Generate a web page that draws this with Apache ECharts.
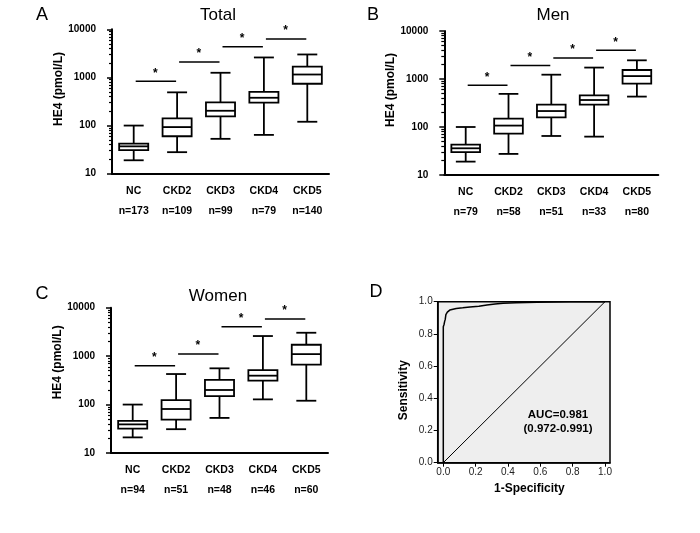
<!DOCTYPE html>
<html><head><meta charset="utf-8">
<script src="https://cdn.jsdelivr.net/npm/echarts@6/dist/echarts.min.js"></script>
<style>html,body{margin:0;padding:0;background:#fff}#c{width:700px;height:533px}</style>
</head><body><div id="c"></div>
<script>
// ---------- data ----------
const categories = ['NC', 'CKD2', 'CKD3', 'CKD4', 'CKD5'];
const nTotal = [173, 109, 99, 79, 140];
const nMen = [79, 58, 51, 33, 80];
const nWomen = [94, 51, 48, 46, 60];

// [min, Q1, median, Q3, max] in pmol/L
const totalStats = [
  [19, 31, 37, 42, 100],
  [28, 60, 93, 141, 490],
  [53, 155, 203, 303, 1250],
  [64, 300, 378, 500, 2600],
  [120, 740, 1150, 1670, 3000]
];
const menStats = [
  [19, 30, 36, 43, 100],
  [27.5, 73, 107, 149, 490],
  [65, 158, 215, 292, 1230],
  [63, 292, 365, 457, 1730],
  [430, 800, 1150, 1540, 2450]
];
const womenStats = [
  [21, 32, 39, 46, 100],
  [31, 49, 81, 123, 427],
  [53, 150, 200, 322, 560],
  [128, 312, 395, 516, 2600],
  [120, 665, 1100, 1720, 3040]
];
// significance bar heights (between category i and i+1)
const totalSig = [830, 2090, 4350, 6300];
const menSig = [740, 1900, 2750, 3970];
const womenSig = [635, 1110, 4060, 5860];

const logMajorTicks = [10, 100, 1000, 10000];
const logMinorTicks = [20, 30, 40, 50, 60, 70, 80, 90, 200, 300, 400, 500, 600, 700, 800, 900,
  2000, 3000, 4000, 5000, 6000, 7000, 8000, 9000];

// ROC curve
const rocFpr = [0, 0, 0.005, 0.008, 0.012, 0.016, 0.025, 0.04, 0.06, 0.08, 0.12, 0.165, 0.22, 0.27, 0.32, 0.37, 0.45, 0.58, 0.78, 1.0];
const rocTpr = [0, 0.845, 0.86, 0.876, 0.89, 0.92, 0.935, 0.948, 0.953, 0.958, 0.962, 0.967, 0.972, 0.98, 0.985, 0.99, 0.993, 0.996, 1.0, 1.0];
const refX = [0, 1];
const refY = [0, 1];
const rocTicks = [0, 0.2, 0.4, 0.6, 0.8, 1.0];

// ---------- chart ----------
const FONT = '"Liberation Sans", Arial, sans-serif';
const chart = echarts.init(document.getElementById('c'), null, {renderer: 'canvas'});

const panels = [
  {stats: totalStats, sig: totalSig, n: nTotal, grid: {left: 112, top: 29.3, width: 217, height: 144.4}, namePad: 25},
  {stats: menStats, sig: menSig, n: nMen, grid: {left: 444.3, top: 31, width: 214, height: 144}, namePad: 26},
  {stats: womenStats, sig: womenSig, n: nWomen, grid: {left: 111, top: 307.7, width: 217, height: 145.3}, namePad: 36}
];

function renderBox(params, api) {
  const x = api.value(0);
  const pMin = api.coord([x, api.value(1)]);
  const pQ1 = api.coord([x, api.value(2)]);
  const pMed = api.coord([x, api.value(3)]);
  const pQ3 = api.coord([x, api.value(4)]);
  const pMax = api.coord([x, api.value(5)]);
  const band = api.size([1, 1], [x, 100])[0];
  const bw = band * 0.67, cw = band * 0.46;
  const cx = pMed[0];
  const st = {stroke: '#000', lineWidth: 1.8};
  return {type: 'group', children: [
    {type: 'line', shape: {x1: cx, y1: pMax[1], x2: cx, y2: pQ3[1]}, style: st},
    {type: 'line', shape: {x1: cx, y1: pQ1[1], x2: cx, y2: pMin[1]}, style: st},
    {type: 'line', shape: {x1: cx - cw / 2, y1: pMax[1], x2: cx + cw / 2, y2: pMax[1]}, style: st},
    {type: 'line', shape: {x1: cx - cw / 2, y1: pMin[1], x2: cx + cw / 2, y2: pMin[1]}, style: st},
    {type: 'rect', shape: {x: cx - bw / 2, y: pQ3[1], width: bw, height: pQ1[1] - pQ3[1]}, style: {stroke: '#000', lineWidth: 1.8, fill: '#fff'}},
    {type: 'line', shape: {x1: cx - bw / 2, y1: pMed[1], x2: cx + bw / 2, y2: pMed[1]}, style: st}
  ]};
}

function renderSig(params, api) {
  const i = api.value(0), v = api.value(1);
  const p1 = api.coord([i, v]), p2 = api.coord([i + 1, v]);
  return {type: 'group', children: [
    {type: 'line', shape: {x1: p1[0] + 2, y1: p1[1], x2: p2[0] - 1, y2: p2[1]}, style: {stroke: '#000', lineWidth: 1.5}},
    {type: 'text', x: (p1[0] + p2[0]) / 2, y: p1[1] - 8, style: {text: '*', font: 'bold 12px ' + FONT, align: 'center', verticalAlign: 'middle', fill: '#000'}}
  ]};
}

const grids = [], xAxes = [], yAxes = [], series = [];

panels.forEach((p, i) => {
  grids.push(Object.assign({outerBoundsMode: 'none', containLabel: false}, p.grid));
  xAxes.push({
    type: 'category', gridIndex: i, data: categories, boundaryGap: true,
    axisLine: {lineStyle: {color: '#000', width: 2}},
    axisTick: {alignWithLabel: true, length: 5, lineStyle: {color: '#000', width: 1.5}},
    axisLabel: {
      margin: 7, interval: 0,
      formatter: (v, idx) => '{c|' + v + '}\n{n|n=' + p.n[idx] + '}',
      rich: {
        c: {fontFamily: FONT, fontWeight: 'bold', fontSize: 10.5, color: '#000', lineHeight: 20},
        n: {fontFamily: FONT, fontWeight: 'bold', fontSize: 10.5, color: '#000', lineHeight: 20}
      }
    },
    splitLine: {show: false}
  });
  yAxes.push({
    type: 'log', logBase: 10, gridIndex: i, min: 10, max: 10000, position: 'left',
    axisLine: {show: true, lineStyle: {color: '#000', width: 2}},
    axisTick: {show: true, length: 5, lineStyle: {color: '#000', width: 1.5}},
    axisLabel: {fontFamily: FONT, fontWeight: 'bold', fontSize: 10, color: '#000', margin: 16,
      formatter: v => String(Math.round(v))},
    splitLine: {show: false},
    name: 'HE4 (pmol/L)', nameLocation: 'middle', nameGap: 47,
    nameTextStyle: {fontFamily: FONT, fontWeight: 'bold', fontSize: 12, color: '#000', padding: [0, 0, 0, p.namePad]}
  });
  yAxes.push({
    type: 'value', gridIndex: i, min: 1, max: 4, position: 'left', offset: 0,
    axisLine: {show: false},
    axisTick: {show: true, length: 3, lineStyle: {color: '#000', width: 1.2}, customValues: logMinorTicks.map(Math.log10)},
    axisLabel: {show: false},
    splitLine: {show: false}
  });
  series.push({
    type: 'custom', xAxisIndex: i, yAxisIndex: 2 * i, renderItem: renderBox,
    encode: {x: 0, y: [1, 2, 3, 4, 5]},
    data: p.stats.map((s, k) => [k].concat(s)), clip: false, silent: true
  });
  series.push({
    type: 'custom', xAxisIndex: i, yAxisIndex: 2 * i, renderItem: renderSig,
    encode: {x: 0, y: 1},
    data: p.sig.map((v, k) => [k, v]), clip: false, silent: true
  });
});

// Panel D
grids.push({left: 437.7, top: 301.7, width: 172.3, height: 161, show: true, backgroundColor: '#eeeeee',
  borderColor: '#000', borderWidth: 1.5, outerBoundsMode: 'none', containLabel: false});
xAxes.push({
  type: 'value', gridIndex: 3, min: -0.0346, max: 1.031,
  axisLine: {show: true, onZero: false, lineStyle: {color: '#000', width: 1.5}},
  axisTick: {show: true, length: 4, customValues: rocTicks, lineStyle: {color: '#000', width: 1}},
  axisLabel: {customValues: rocTicks, formatter: v => v.toFixed(1), fontFamily: FONT, fontSize: 10, color: '#222', margin: 5},
  splitLine: {show: false},
  name: '1-Specificity', nameLocation: 'middle', nameGap: 20,
  nameTextStyle: {fontFamily: FONT, fontWeight: 'bold', fontSize: 12, color: '#000', padding: [0, 0, 0, 11]}
});
yAxes.push({
  type: 'value', gridIndex: 3, min: 0, max: 1, interval: 0.2,
  axisLine: {show: true, onZero: false, lineStyle: {color: '#000', width: 1.5}},
  axisTick: {show: true, length: 4, lineStyle: {color: '#000', width: 1}},
  axisLabel: {formatter: v => v.toFixed(1), fontFamily: FONT, fontSize: 10, color: '#222', margin: 5},
  splitLine: {show: false},
  name: 'Sensitivity', nameLocation: 'middle', nameGap: 28,
  nameTextStyle: {fontFamily: FONT, fontWeight: 'bold', fontSize: 12, color: '#000', padding: [0, 16, 0, 0]}
});
series.push({
  type: 'line', xAxisIndex: 3, yAxisIndex: 6, symbol: 'none', silent: true,
  lineStyle: {color: '#000', width: 1.5},
  data: rocFpr.map((x, k) => [x, rocTpr[k]])
});
series.push({
  type: 'line', xAxisIndex: 3, yAxisIndex: 6, symbol: 'none', silent: true,
  lineStyle: {color: '#000', width: 1},
  data: refX.map((x, k) => [x, refY[k]])
});

function txt(x, y, text, font) {
  return {type: 'text', x: x, y: y, silent: true,
    style: {text: text, font: font, fill: '#000', align: 'center', verticalAlign: 'middle'}};
}

chart.setOption({
  animation: false,
  backgroundColor: '#fff',
  grid: grids, xAxis: xAxes, yAxis: yAxes, series: series,
  graphic: [
    txt(42, 15, 'A', '18px ' + FONT),
    txt(218, 15, 'Total', '17px ' + FONT),
    txt(373, 15, 'B', '18px ' + FONT),
    txt(553, 15, 'Men', '17px ' + FONT),
    txt(42, 294.5, 'C', '18px ' + FONT),
    txt(218, 296, 'Women', '17px ' + FONT),
    txt(376, 292.5, 'D', '18px ' + FONT),
    txt(558, 415, 'AUC=0.981', 'bold 11.5px ' + FONT),
    txt(558, 429, '(0.972-0.991)', 'bold 11.5px ' + FONT)
  ]
});
</script></body></html>
